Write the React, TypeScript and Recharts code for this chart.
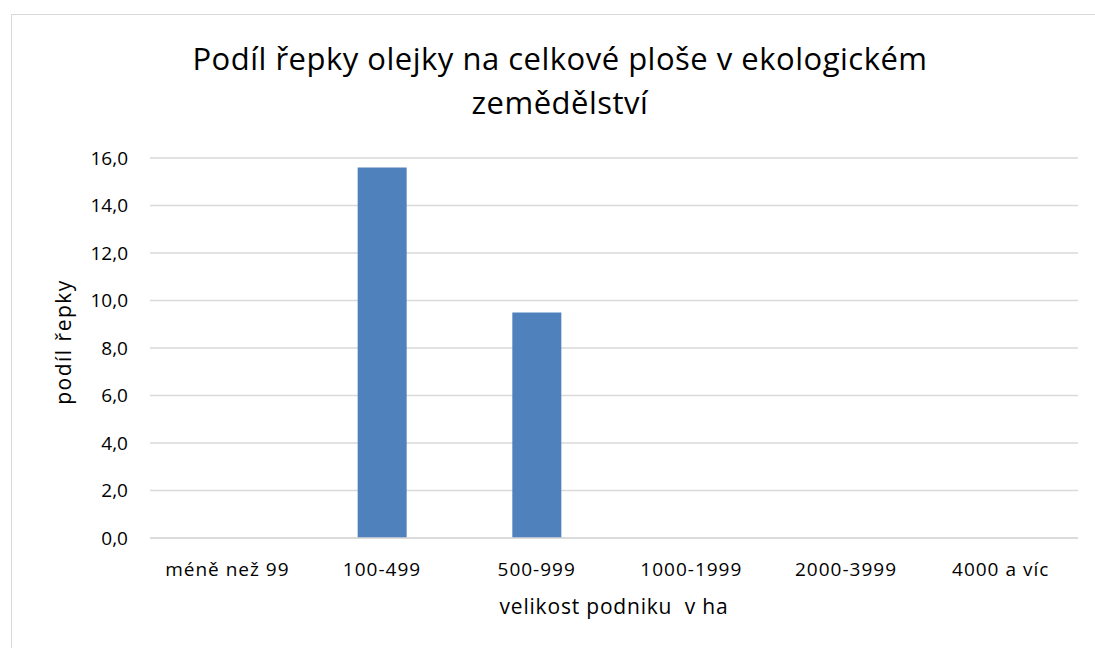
import { BarChart, Bar, XAxis, YAxis, CartesianGrid } from 'recharts';

// velikost podniku (ha)
const categories = ['méně než 99', '100-499', '500-999', '1000-1999', '2000-3999', '4000 a víc'];
// podíl řepky (%)
const shares = [0, 15.6, 9.5, 0, 0, 0];
const yTicks = [0, 2, 4, 6, 8, 10, 12, 14, 16];

const data = categories.map((name, i) => ({ name, value: shares[i] }));

const FONT = '"Open Sans", "Noto Sans", sans-serif';
const fmt = (v: number) => v.toFixed(1).replace('.', ',');

const App = () => {
  return (
    <div style={{ position: 'absolute', left: 0, top: 0, width: 1095, height: 648, overflow: 'hidden', background: '#fff', fontFamily: FONT }}>
      {/* chart frame, runs off the right and bottom edge */}
      <div style={{ position: 'absolute', left: 11, top: 14, width: 1200, height: 800, border: '1.5px solid #d9d9d9' }} />

      {/* title */}
      <div style={{ position: 'absolute', left: 0, width: 1120, top: 36, textAlign: 'center', fontSize: 31, letterSpacing: 0.5, lineHeight: '44px', color: '#000' }}>
        Podíl řepky olejky na celkové ploše v ekologickém
        <br />
        zemědělství
      </div>

      <div style={{ position: 'absolute', left: 0, top: 0 }}>
        <BarChart width={1095} height={648} data={data} margin={{ top: 158, right: 17, bottom: 80, left: 0 }}>
          <CartesianGrid vertical={false} stroke="#d9d9d9" strokeWidth={1.5} />
          <XAxis
            dataKey="name"
            axisLine={{ stroke: '#d9d9d9', strokeWidth: 1.5 }}
            tickLine={false}
            tickMargin={19}
            tick={{ fill: '#000', fontSize: 19, letterSpacing: 1, fontFamily: FONT }}
            interval={0}
            label={(props: any) => {
              const vb = props.viewBox;
              return (
                <text x={vb.x + vb.width / 2} y={614} textAnchor="middle" fontSize={21} letterSpacing={0.8} fontFamily={FONT} fill="#000">
                  {'velikost podniku\u00a0 v ha'}
                </text>
              );
            }}
          />
          <YAxis
            width={150}
            domain={[0, 16]}
            ticks={yTicks}
            tickFormatter={fmt}
            axisLine={false}
            tickLine={false}
            tickMargin={16}
            tick={{ fill: '#000', fontSize: 19, fontFamily: FONT }}
            label={(props: any) => {
              const vb = props.viewBox;
              const cy = vb.y + vb.height / 2 - 6;
              return (
                <text x={71} y={cy} transform={`rotate(-90 71 ${cy})`} textAnchor="middle" fontSize={21} letterSpacing={1.5} fontFamily={FONT} fill="#000">
                  podíl řepky
                </text>
              );
            }}
          />
          <Bar dataKey="value" fill="#4f81bd" barSize={49} isAnimationActive={false} />
        </BarChart>
      </div>
    </div>
  );
};

export default App;
